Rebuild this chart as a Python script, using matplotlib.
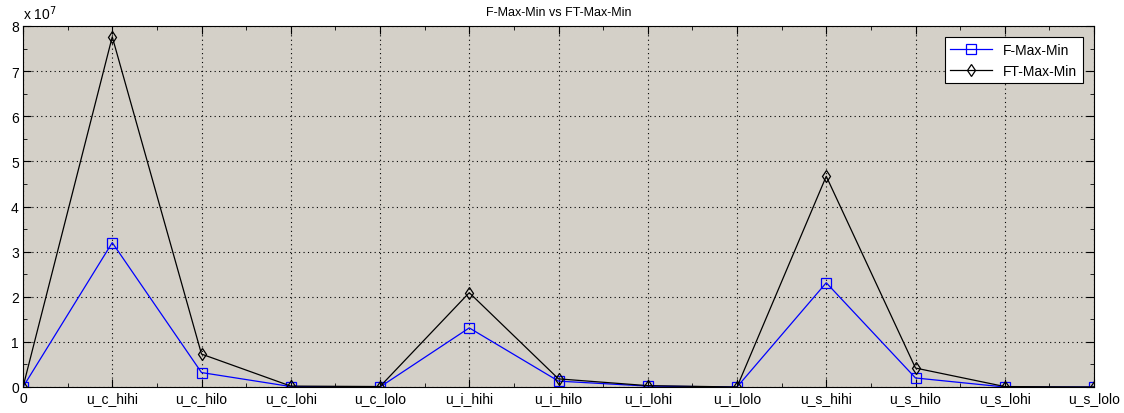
#!/usr/bin/env python3
# -*- coding: utf-8 -*-

# max-min comparison plot (F vs FT)

import numpy as np
import matplotlib
matplotlib.use('Agg')
import matplotlib.pyplot as plt
from matplotlib.ticker import MultipleLocator

plt.rcParams['font.family'] = ['Liberation Sans', 'DejaVu Sans']

labels = ['0', 'u_c_hihi', 'u_c_hilo', 'u_c_lohi', 'u_c_lolo',
          'u_i_hihi', 'u_i_hilo', 'u_i_lohi', 'u_i_lolo',
          'u_s_hihi', 'u_s_hilo', 'u_s_lohi', 'u_s_lolo']

# values in units of 1e7
f_max_min = [0.0, 3.20, 0.32, 0.01, 0.0, 1.31, 0.13, 0.02, 0.0, 2.31, 0.20, 0.0, 0.0]
ft_max_min = [0.0, 7.76, 0.73, 0.02, 0.01, 2.09, 0.18, 0.03, 0.0, 4.67, 0.42, 0.01, 0.0]

x = np.arange(len(labels))

fig = plt.figure(figsize=(11.24, 4.14), dpi=100)
ax = fig.add_axes([23/1124, 26/414, 1071/1124, 361/414])
ax.set_facecolor('#d4d0c8')

ax.plot(x, f_max_min, color='#0000ff', lw=0.9, marker='s',
        markersize=7, markerfacecolor='none', markeredgecolor='#0000ff',
        markeredgewidth=0.9, label='F-Max-Min')
ax.plot(x, ft_max_min, color='black', lw=0.9, marker='d',
        markersize=6, markerfacecolor='none', markeredgecolor='black',
        markeredgewidth=0.9, label='FT-Max-Min')

ax.set_xlim(0, 12)
ax.set_ylim(0, 8)
ax.set_xticks(x)
ax.set_xticklabels(labels)
ax.xaxis.set_minor_locator(MultipleLocator(0.5))
ax.yaxis.set_minor_locator(MultipleLocator(0.5))
ax.set_yticks(np.arange(0, 9, 1))
ax.tick_params(which='both', direction='in', top=True, right=True,
               labelsize=10, pad=3)
ax.tick_params(which='major', length=6)
ax.tick_params(which='minor', length=3)
ax.grid(True, which='major', linestyle=(0, (1, 3)), color='black', lw=0.8)
for s in ax.spines.values():
    s.set_linewidth(0.8)

ax.text(0.0, 1.01, r'x 10$^7$', transform=ax.transAxes, fontsize=10,
        ha='left', va='bottom')
ax.set_title('F-Max-Min vs FT-Max-Min', fontsize=9, pad=8)

leg = ax.legend(loc='upper right', fontsize=10, fancybox=False, framealpha=1,
                edgecolor='black', borderaxespad=0.8, handlelength=3)
leg.get_frame().set_linewidth(0.8)

plt.savefig('out.png', dpi=100)
plt.close()
